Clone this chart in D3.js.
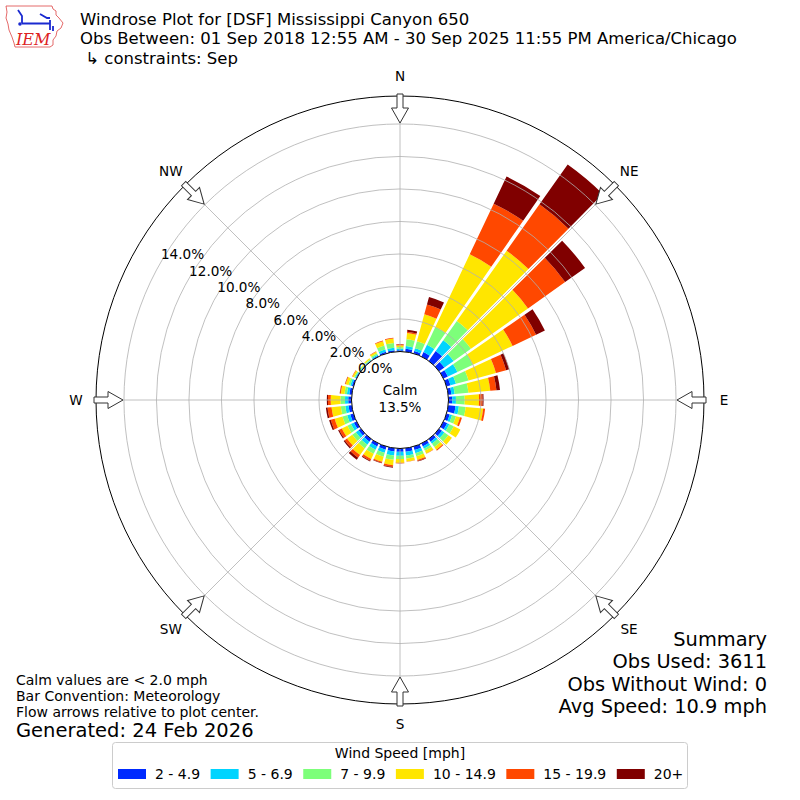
<!DOCTYPE html>
<html>
<head>
<meta charset="utf-8">
<style>
body { margin: 0; background: #fff; }
text { font-family: "DejaVu Sans", sans-serif; fill: #000; }
</style>
</head>
<body>
<div id="chart"></div>
<script src="https://cdn.jsdelivr.net/npm/d3@7/dist/d3.min.js"></script>
<script>
// wind directions (deg, meteorological) and speed bins
var directions = d3.range(0, 360, 10);
var speedBins = ['2 - 4.9', '5 - 6.9', '7 - 9.9', '10 - 14.9', '15 - 19.9', '20+'];

// percent of obs per direction, one array per speed bin
var bin2to5 = [0.08, 0.18, 0.15, 0.30, 0.75, 0.40, 0.30, 0.25, 0.20, 0.23, 0.45, 0.20, 0.25, 0.22, 0.20, 0.20, 0.22, 0.22,
               0.20, 0.20, 0.20, 0.20, 0.20, 0.18, 0.18, 0.20, 0.20, 0.20, 0.15, 0.10, 0.05, 0.03, 0.03, 0.05, 0.10, 0.10];
var bin5to7 = [0.09, 0.17, 0.18, 0.50, 0.80, 0.70, 0.65, 0.35, 0.20, 0.23, 0.21, 0.15, 0.15, 0.18, 0.15, 0.15, 0.20, 0.23,
               0.25, 0.25, 0.20, 0.22, 0.22, 0.20, 0.20, 0.20, 0.20, 0.20, 0.15, 0.10, 0.05, 0.03, 0.03, 0.07, 0.15, 0.15];
var bin7to10 = [0.10, 0.42, 0.45, 1.20, 1.45, 1.30, 1.05, 0.80, 0.85, 0.54, 0.42, 0.25, 0.30, 0.30, 0.25, 0.15, 0.20, 0.20,
                0.20, 0.27, 0.25, 0.28, 0.28, 0.27, 0.24, 0.30, 0.28, 0.28, 0.15, 0.12, 0.07, 0.04, 0.06, 0.10, 0.25, 0.30];
var bin10to15 = [0.11, 0.39, 1.72, 4.95, 5.30, 4.30, 2.70, 1.75, 1.35, 0.88, 1.08, 0.26, 0.45, 0.27, 0.20, 0.18, 0.23, 0.17,
                 0.23, 0.33, 0.32, 0.35, 0.50, 0.40, 0.38, 0.50, 0.57, 0.60, 0.23, 0.18, 0.10, 0.05, 0.08, 0.11, 0.28, 0.27];
var bin15to20 = [0.06, 0.08, 0.62, 3.45, 3.50, 2.80, 1.60, 0.65, 0.38, 0.22, 0.12, 0.12, 0.00, 0.00, 0.07, 0.02, 0.07, 0.02,
                 0.03, 0.10, 0.07, 0.12, 0.20, 0.17, 0.18, 0.25, 0.25, 0.17, 0.06, 0.04, 0.03, 0.00, 0.00, 0.02, 0.04, 0.04];
var bin20plus = [0.02, 0.12, 0.48, 1.85, 3.00, 1.50, 0.60, 0.20, 0.22, 0.06, 0.00, 0.00, 0.00, 0.00, 0.00, 0.00, 0.03, 0.00,
                 0.01, 0.05, 0.03, 0.05, 0.15, 0.08, 0.07, 0.10, 0.10, 0.07, 0.01, 0.01, 0.00, 0.00, 0.00, 0.00, 0.00, 0.01];

var radialTicks = [0, 2, 4, 6, 8, 10, 12, 14];
var compassLabels = ['N', 'NE', 'E', 'SE', 'S', 'SW', 'W', 'NW'];
var calmPct = 13.5;

var titleLines = ['Windrose Plot for [DSF] Mississippi Canyon 650',
                  'Obs Between: 01 Sep 2018 12:55 AM - 30 Sep 2025 11:55 PM America/Chicago',
                  ' \u21b3 constraints: Sep'];
var noteLines = ['Calm values are < 2.0 mph', 'Bar Convention: Meteorology', 'Flow arrows relative to plot center.'];
var generated = 'Generated: 24 Feb 2026';
var summaryLines = ['Summary', 'Obs Used: 3611', 'Obs Without Wind: 0', 'Avg Speed: 10.9 mph'];

var colors = ['#002aff', '#00d4ff', '#7dff7a', '#ffe600', '#ff4800', '#800000'];

var width = 800, height = 800, cx = 400, cy = 400;
var rad = Math.PI / 180;

var svg = d3.select('#chart').append('svg')
    .attr('width', width)
    .attr('height', height);

var r = d3.scaleLinear().domain([0, 15.72]).range([48.5, 304]);

var rows = directions.map(function (d, i) {
    return { dir: d, b0: bin2to5[i], b1: bin5to7[i], b2: bin7to10[i], b3: bin10to15[i], b4: bin15to20[i], b5: bin20plus[i] };
});
var keys = ['b0', 'b1', 'b2', 'b3', 'b4', 'b5'];
var series = d3.stack().keys(keys)(rows);

var g = svg.append('g').attr('transform', 'translate(' + cx + ',' + cy + ')');

var arc = d3.arc()
    .innerRadius(function (d) { return r(d[0]); })
    .outerRadius(function (d) { return r(d[1]); })
    .startAngle(function (d) { return (d.data.dir - 4.7) * rad; })
    .endAngle(function (d) { return (d.data.dir + 4.7) * rad; })
    .padAngle(0.016)
    .padRadius(100);

g.selectAll('g.layer')
    .data(series)
    .enter().append('g')
    .attr('class', 'layer')
    .attr('fill', function (d, i) { return colors[i]; })
    .selectAll('path')
    .data(function (d) { return d.filter(function (s) { return s[1] > s[0]; }); })
    .enter().append('path')
    .attr('d', arc);

// grid on top of bars, like matplotlib
g.selectAll('circle.ring')
    .data(radialTicks.slice(1))
    .enter().append('circle')
    .attr('class', 'ring')
    .attr('r', function (d) { return r(d); })
    .attr('fill', 'none')
    .attr('stroke', '#b0b0b0')
    .attr('stroke-width', 0.8);

g.selectAll('line.spoke')
    .data(d3.range(0, 360, 45))
    .enter().append('line')
    .attr('x1', function (a) { return r(0) * Math.sin(a * rad); })
    .attr('y1', function (a) { return -r(0) * Math.cos(a * rad); })
    .attr('x2', function (a) { return 304 * Math.sin(a * rad); })
    .attr('y2', function (a) { return -304 * Math.cos(a * rad); })
    .attr('stroke', '#b0b0b0')
    .attr('stroke-width', 0.8);

// calm circle
g.append('circle')
    .attr('r', r(0))
    .attr('fill', '#fff')
    .attr('stroke', '#000')
    .attr('stroke-width', 1);
g.append('text').attr('x', 0).attr('y', -5).attr('text-anchor', 'middle')
    .style('font-size', '13.5px').text('Calm');
g.append('text').attr('x', 0).attr('y', 12).attr('text-anchor', 'middle')
    .style('font-size', '13.5px').text(calmPct.toFixed(1) + '%');

// outer frame
g.append('circle')
    .attr('r', 304)
    .attr('fill', 'none')
    .attr('stroke', '#000')
    .attr('stroke-width', 1);

// radial tick labels along 300 deg
g.selectAll('text.rlab')
    .data(radialTicks)
    .enter().append('text')
    .attr('class', 'rlab')
    .attr('x', function (d) { return r(d) * Math.sin(300 * rad); })
    .attr('y', function (d) { return -r(d) * Math.cos(300 * rad) - 2.5; })
    .style('font-size', '13.6px')
    .text(function (d) { return d.toFixed(1) + '%'; });

// flow arrows at the 8 compass points
var arrowPts = [[-3, -306], [3, -306], [3, -292], [8.5, -292], [0, -277], [-8.5, -292], [-3, -292]];
g.selectAll('path.arrow')
    .data(d3.range(0, 360, 45))
    .enter().append('path')
    .attr('class', 'arrow')
    .attr('d', 'M' + arrowPts.join('L') + 'Z')
    .attr('transform', function (a) { return 'rotate(' + a + ')'; })
    .attr('fill', '#fff')
    .attr('stroke', '#333')
    .attr('stroke-width', 1);

g.selectAll('text.clab')
    .data(compassLabels)
    .enter().append('text')
    .attr('x', function (d, i) { return 324 * Math.sin(i * 45 * rad); })
    .attr('y', function (d, i) { return -324 * Math.cos(i * 45 * rad) + 5; })
    .attr('text-anchor', 'middle')
    .style('font-size', '13.6px')
    .text(function (d) { return d; });

// titles
svg.selectAll('text.title')
    .data(titleLines)
    .enter().append('text')
    .attr('x', 80)
    .attr('y', function (d, i) { return 24.5 + i * 19.5; })
    .style('font-size', '16.5px')
    .style('white-space', 'pre')
    .text(function (d) { return d; });

// IEM logo (rough)
var logo = svg.append('g');
logo.append('path')
    .attr('d', 'M6,6 L52,6 L53,9 L56,11 L56,15 L59,18 L63,23 L61,28 L57,31 L56,36 L53,40 L53,45 L50,47 L15,47 L14,43 L12,37 L9,30 L8,24 L6,18 L7,12 Z')
    .attr('fill', '#fff').attr('stroke', '#d44').attr('stroke-width', 0.8);
logo.append('path')
    .attr('d', 'M22,23.5 L50,23.5 M18,10 L22,16 L22,23.5 M40,14 L47,18 L50,18 M50,20 L50,30 M53,26 L53,31')
    .attr('fill', 'none').attr('stroke', '#1a2ad0').attr('stroke-width', 1.8);
logo.append('circle').attr('cx', 20).attr('cy', 24).attr('r', 1.8).attr('fill', '#1a2ad0');
logo.append('text').attr('x', 16).attr('y', 45)
    .style('font-family', '"DejaVu Serif", serif').style('font-style', 'italic')
    .style('font-size', '16px').style('fill', '#d22').text('IEM');

// notes bottom left
svg.selectAll('text.note')
    .data(noteLines)
    .enter().append('text')
    .attr('x', 16)
    .attr('y', function (d, i) { return 685 + i * 16; })
    .style('font-size', '14px')
    .text(function (d) { return d; });
svg.append('text').attr('x', 16).attr('y', 737).style('font-size', '19.5px').text(generated);

// summary bottom right
svg.selectAll('text.summary')
    .data(summaryLines)
    .enter().append('text')
    .attr('x', 767)
    .attr('y', function (d, i) { return 646 + i * 22.3; })
    .attr('text-anchor', 'end')
    .style('font-size', '19.4px')
    .text(function (d) { return d; });

// legend
var leg = svg.append('g');
leg.append('rect')
    .attr('x', 112.5).attr('y', 742.5).attr('width', 575).attr('height', 46).attr('rx', 3)
    .attr('fill', '#fff').attr('stroke', '#ccc');
leg.append('text').attr('x', 400).attr('y', 758).attr('text-anchor', 'middle')
    .style('font-size', '14px').text('Wind Speed [mph]');
var lx = 118;
speedBins.forEach(function (lab, i) {
    leg.append('rect').attr('x', lx).attr('y', 769).attr('width', 28).attr('height', 10).attr('fill', colors[i]);
    var t = leg.append('text').attr('x', lx + 37).attr('y', 779).style('font-size', '14px').text(lab);
    lx = lx + 37 + t.node().getComputedTextLength() + 10.5;
});
</script>
</body>
</html>
